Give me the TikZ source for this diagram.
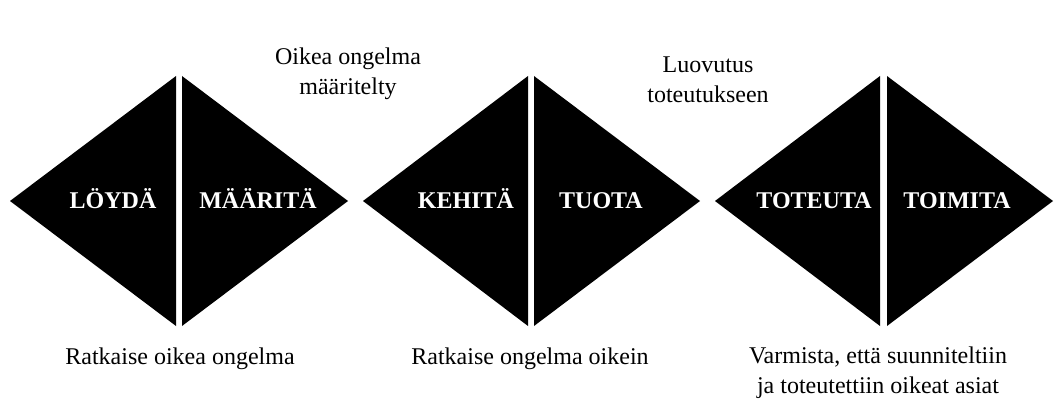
\documentclass[tikz,border=0pt]{standalone}
\usepackage{fontspec}
\setmainfont{Liberation Serif}
\tikzset{
  tri/.style={fill=black, draw=none},
  inlabel/.style={text=white, font=\fontsize{24}{29}\selectfont\bfseries, inner sep=0pt, anchor=base},
  caption/.style={text=black, font=\fontsize{24}{30}\selectfont, align=center, inner sep=0pt, anchor=center}
}
\begin{document}
\begin{tikzpicture}[x=1pt,y=-1pt]
\useasboundingbox (0,0) rectangle (1058,404);
% diamond 1
\fill[tri] (10,201) -- (176,76) -- (176,326) -- cycle;
\fill[tri] (182,76) -- (348,201) -- (182,326) -- cycle;
% diamond 2
\fill[tri] (363,201) -- (528,76) -- (528,326) -- cycle;
\fill[tri] (534,76) -- (700,201) -- (534,326) -- cycle;
% diamond 3
\fill[tri] (715,201) -- (880,76) -- (880,326) -- cycle;
\fill[tri] (887,76) -- (1053,201) -- (887,326) -- cycle;
% labels
\node[inlabel] (loyda) at (113,208) {LÖYDÄ};
\node[inlabel] (maarita) at (258,208) {MÄÄRITÄ};
\node[inlabel] (kehita) at (466,208) {KEHITÄ};
\node[inlabel] (tuota) at (601,208) {TUOTA};
\node[inlabel] (toteuta) at (814,208) {TOTEUTA};
\node[inlabel] (toimita) at (957,208) {TOIMITA};
% captions
\node[caption] (top1) at (348,74) {Oikea ongelma\\määritelty};
\node[caption] (top2) at (708,80) {Luovutus\\toteutukseen};
\node[caption] (bot1) at (180,359) {Ratkaise oikea ongelma};
\node[caption] (bot2) at (530,359) {Ratkaise ongelma oikein};
\node[caption] (bot3) at (878,373) {Varmista, että suunniteltiin\\ja toteutettiin oikeat asiat};
\end{tikzpicture}
\end{document}
